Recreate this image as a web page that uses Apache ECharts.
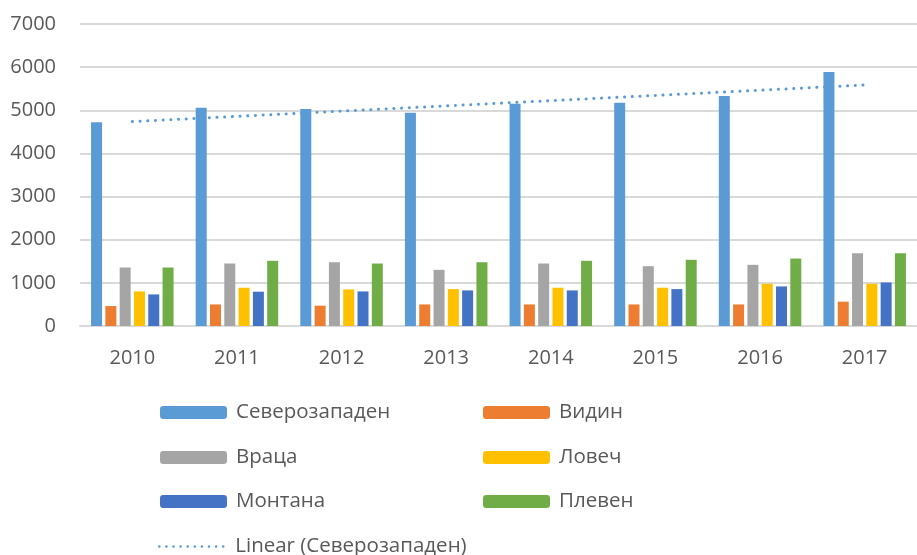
<!DOCTYPE html>
<html>
<head>
<meta charset="utf-8">
<script src="https://cdn.jsdelivr.net/npm/echarts@6/dist/echarts.min.js"></script>
<style>
  html, body { margin: 0; padding: 0; background: #fff; }
  #chart { width: 917px; height: 555px; }
</style>
</head>
<body>
<div id="chart"></div>
<script>
  // categories and series values
  var years = ['2010', '2011', '2012', '2013', '2014', '2015', '2016', '2017'];
  var severozapaden = [4720, 5060, 5030, 4945, 5150, 5175, 5330, 5890];
  var vidin = [462, 500, 471, 500, 500, 500, 500, 564];
  var vratsa = [1356, 1448, 1478, 1302, 1448, 1386, 1418, 1686];
  var lovech = [802, 887, 848, 855, 887, 887, 979, 979];
  var montana = [732, 795, 801, 825, 825, 855, 917, 1009];
  var pleven = [1356, 1511, 1448, 1478, 1511, 1534, 1564, 1686];

  var names = ['Северозападен', 'Видин', 'Враца', 'Ловеч', 'Монтана', 'Плевен'];
  var colors = ['#5B9BD5', '#ED7D31', '#A5A5A5', '#FFC000', '#4472C4', '#70AD47'];
  var trendName = 'Linear (Северозападен)';

  // linear trendline (least squares) of Северозападен, like Excel's
  function linearTrend(vals) {
    var n = vals.length, sx = 0, sy = 0, sxy = 0, sxx = 0;
    for (var i = 0; i < n; i++) {
      var x = i + 1;
      sx += x; sy += vals[i]; sxy += x * vals[i]; sxx += x * x;
    }
    var b = (n * sxy - sx * sy) / (n * sxx - sx * sx);
    var a = (sy - b * sx) / n;
    var out = [];
    for (var k = 0; k < n; k++) out.push(Math.round((a + b * (k + 1)) * 10) / 10);
    return out;
  }
  var trend = linearTrend(severozapaden);

  var font = 'Open Sans';
  var textColor = '#595959';
  var seriesData = [severozapaden, vidin, vratsa, lovech, montana, pleven];

  var series = [];
  for (var i = 0; i < names.length; i++) {
    series.push({
      name: names[i],
      type: 'bar',
      barWidth: 11,
      barGap: '30%',
      itemStyle: { color: colors[i] },
      data: seriesData[i]
    });
  }
  series.push({
    name: trendName,
    type: 'line',
    symbol: 'none',
    lineStyle: { color: '#5B9BD5', width: 3, type: [0.1, 7.6], cap: 'round' },
    itemStyle: { color: '#5B9BD5' },
    data: trend
  });

  // legend in two columns, one legend per item
  var legendPos = [
    [160, 402], [483, 402],
    [160, 447], [483, 447],
    [160, 491], [483, 491],
    [158, 536]
  ];
  var legendNames = names.concat([trendName]);
  var legends = [];
  for (var j = 0; j < legendNames.length; j++) {
    var item = { name: legendNames[j] };
    if (legendNames[j] === trendName) {
      item.itemStyle = { opacity: 0 };
      item.lineStyle = { color: '#5B9BD5', width: 2.5, type: [0.1, 7], cap: 'round' };
    }
    legends.push({
      data: [item],
      left: legendPos[j][0],
      top: legendPos[j][1],
      padding: 0,
      itemWidth: 67,
      itemHeight: 13,
      itemGap: 9,
      selectedMode: false,
      textStyle: { color: textColor, fontFamily: font, fontSize: 20.5, padding: [0, 0, 0, 4] }
    });
  }

  var chart = echarts.init(document.getElementById('chart'));
  chart.setOption({
    animation: false,
    color: colors,
    legend: legends,
    grid: { left: 80, top: 24, width: 843, height: 302 },
    xAxis: {
      type: 'category',
      data: years,
      axisLine: { lineStyle: { color: '#d9d9d9', width: 2 } },
      axisTick: { show: false },
      axisLabel: { color: textColor, fontFamily: font, fontSize: 20, margin: 22 }
    },
    yAxis: {
      type: 'value',
      min: 0,
      max: 7000,
      interval: 1000,
      axisLine: { show: false },
      axisTick: { show: false },
      splitLine: { lineStyle: { color: '#d9d9d9', width: 2 } },
      axisLabel: {
        color: textColor, fontFamily: font, fontSize: 20, margin: 24,
        formatter: function (v) { return String(v); }
      }
    },
    series: series
  });
</script>
</body>
</html>
